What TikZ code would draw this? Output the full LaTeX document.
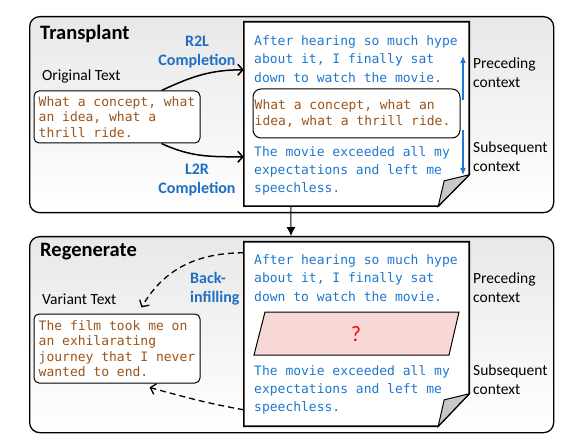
\documentclass[tikz,border=0pt]{standalone}
\usepackage{fontspec}
\setmainfont{Carlito}
\newfontfamily\monofont{DejaVu Sans Mono}
\usetikzlibrary{arrows.meta,calc}
\definecolor{ctxblue}{HTML}{1F78D0}
\definecolor{lblblue}{HTML}{1F6FC0}
\definecolor{srcbrown}{HTML}{9C5418}
\definecolor{gappink}{HTML}{F8D7D7}
\begin{document}
\begin{tikzpicture}[x=1pt,y=-1pt,
  panel/.style={draw,line width=1.3pt,rounded corners=10pt,top color=black!9,bottom color=white},
  title/.style={font=\fontsize{20.5}{24}\selectfont\bfseries,anchor=west,inner sep=0},
  lbl/.style={font=\fontsize{15.5}{19}\selectfont,anchor=west,inner sep=0,align=left},
  method/.style={font=\fontsize{16}{19}\selectfont\bfseries,text=lblblue,inner sep=0,align=center},
  ctx/.style={font=\monofont\fontsize{13}{18.3}\selectfont,text=ctxblue,anchor=west,inner sep=0,align=left},
  srcbox/.style={draw,line width=1pt,rounded corners=5pt,fill=white},
  src/.style={font=\monofont\fontsize{13}{15.5}\selectfont,text=srcbrown,anchor=west,inner sep=0,align=left},
  doc/.style={draw,line width=1.6pt,fill=white},
  flow/.style={line width=1.5pt,-{Straight Barb[length=5pt,width=11pt,line width=1.5pt]}},
  back/.style={line width=1.3pt,dash pattern=on 6pt off 4pt,-{Straight Barb[length=5pt,width=11pt,line width=1.3pt]}},
  span/.style={ctxblue,line width=1.1pt,-{Latex[length=7pt,width=6pt]}}
]
\useasboundingbox (0,0) rectangle (577,443);
% ---------- Transplant panel ----------
\node[panel,minimum width=524pt,minimum height=196pt,anchor=north west] (top) at (29,16) {};
\node[title] (ttl1) at (40,34) {Transplant};
\node[lbl] (orig) at (42,76) {Original Text};
\node[srcbox,minimum width=166pt,minimum height=52pt] (obox) at (117,117) {};
\node[src] (otext) at ($(obox.west)+(5,0)$) {What a concept, what\\an idea, what a\\thrill ride.};
% document
\node[minimum width=225pt,minimum height=184pt,inner sep=0] (d1) at (356.5,114) {};
\draw[doc] (d1.north west) -- (d1.north east) -- ($(d1.north east)+(0,153)$) -- ($(d1.south east)+(-31,0)$) -- (d1.south west) -- cycle;
\draw[line width=1pt,fill=black!22] ($(d1.north east)+(0,153)$) -- ($(d1.north east)+(-25,159)$) -- ($(d1.south east)+(-31,0)$) -- cycle;
\node[ctx] (pre1) at (254,59) {After hearing so much hype\\about it, I finally sat\\down to watch the movie.};
\node[srcbox,minimum width=207pt,minimum height=49pt,rounded corners=8pt] (ibox) at (356.5,113.5) {};
\node[src] (itext) at ($(ibox.west)+(2,0)$) {What a concept, what an\\idea, what a thrill ride.};
\node[ctx] (sub1) at (254,171) {The movie exceeded all my\\expectations and left me\\speechless.};
\coordinate (up0) at (463,100);
\coordinate (up1) at (463,56);
\coordinate (dn0) at (463,130);
\coordinate (dn1) at (463,175);
\draw[span] (up0) -- (up1);
\draw[span] (dn0) -- (dn1);
\node[lbl] (prel1) at (473,73) {Preceding\\context};
\node[lbl] (subl1) at (473,157) {Subsequent\\context};
\node[method] (r2l) at (197,52) {R2L\\Completion};
\node[method] (l2r) at (197,180) {L2R\\Completion};
\draw[flow] ($(obox.north west)+(128,0)$) to[out=25,in=180] ($(d1.north west)+(0,48)$);
\draw[flow] ($(obox.south west)+(128,0)$) to[out=-25,in=180] ($(d1.north west)+(0,135)$);
% ---------- connector ----------
\node[panel,minimum width=524pt,minimum height=196pt,anchor=north west] (bot) at (29,236) {};
\draw[line width=1pt,-{Latex[length=9pt,width=9pt]}] ($(d1.south west)+(47,0)$) -- ($(bot.north west)+(262,0)$);
% ---------- Regenerate panel ----------
\node[title] (ttl2) at (40,252) {Regenerate};
\node[lbl] (var) at (42,299) {Variant Text};
\node[srcbox,minimum width=166pt,minimum height=69pt] (vbox) at (117,348.5) {};
\node[src] (vtext) at ($(vbox.west)+(5,0)$) {The film took me on\\an exhilarating\\journey that I never\\wanted to end.};
\node[minimum width=225pt,minimum height=184pt,inner sep=0] (d2) at (356.5,334) {};
\draw[doc] (d2.north west) -- (d2.north east) -- ($(d2.north east)+(0,152)$) -- ($(d2.south east)+(-31,0)$) -- (d2.south west) -- cycle;
\draw[line width=1pt,fill=black!22] ($(d2.north east)+(0,152)$) -- ($(d2.north east)+(-25,158)$) -- ($(d2.south east)+(-31,0)$) -- cycle;
\node[ctx] (pre2) at (254,278) {After hearing so much hype\\about it, I finally sat\\down to watch the movie.};
\draw[line width=1pt,fill=gappink] (254,355) -- (265,312) -- (459,312) -- (449,355) -- cycle;
\node[font=\fontsize{22}{24}\selectfont,text=red,inner sep=0] (q) at (356,334) {?};
\node[ctx] (sub2) at (254,390) {The movie exceeded all my\\expectations and left me\\speechless.};
\node[lbl] (prel2) at (473,288) {Preceding\\context};
\node[lbl] (subl2) at (473,380) {Subsequent\\context};
\node[method,anchor=west,align=left] (bf) at (190,289) {Back-\\infilling};
\draw[back] ($(d2.north west)+(0,11)$) to[out=180,in=60] ($(vbox.north west)+(108,-6)$);
\draw[back] ($(d2.north west)+(0,168)$) to[out=170,in=-15] ($(vbox.south west)+(116,4)$);
\end{tikzpicture}
\end{document}
